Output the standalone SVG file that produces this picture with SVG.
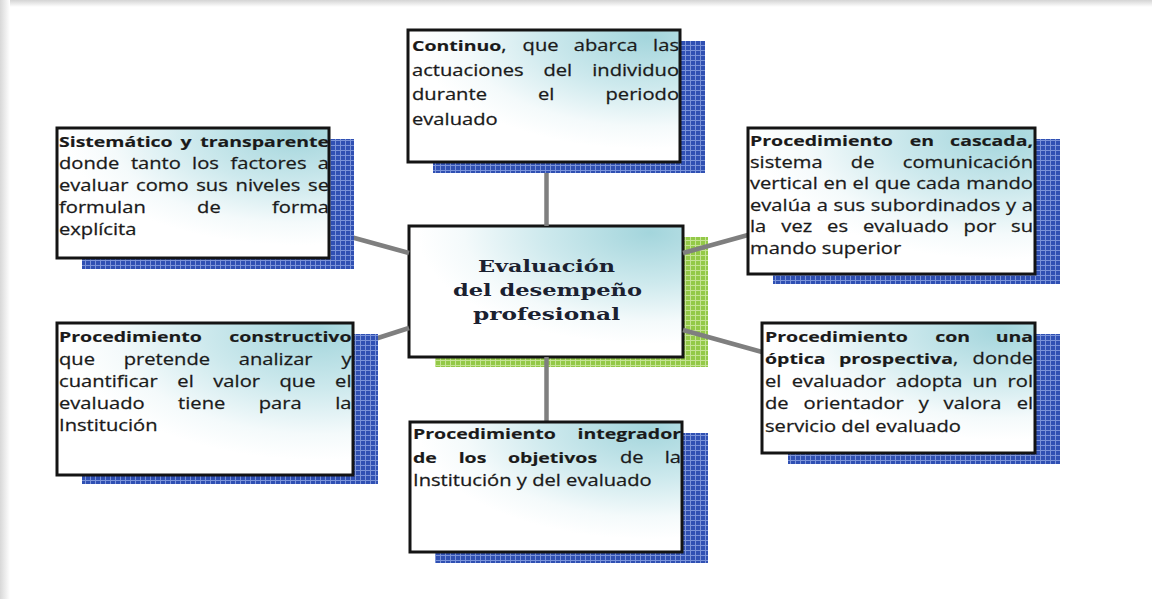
<svg xmlns="http://www.w3.org/2000/svg" width="1152" height="599" viewBox="0 0 1152 599">
<defs>
<style>
.box{fill:url(#boxGrad);stroke:#141414;stroke-width:3}
.sh{fill:url(#bluePat)}
.gsh{fill:url(#greenPat)}
.t text{font-family:"Open Sans","Liberation Sans",sans-serif;font-size:15.5px;fill:#1a1a1a;stroke:#1a1a1a;stroke-width:0.25px}
.t .b{font-weight:700;font-size:15px;stroke-width:0.15px}
.t .e{text-anchor:end}
.conn line{stroke:#7f7f7f;stroke-width:4.5;fill:none}
.ct{font-family:"DejaVu Serif","Liberation Serif",serif;font-weight:700;font-size:17.5px;fill:#1b2130}
</style>
<radialGradient id="boxGrad" cx="0.88" cy="0.05" r="0.85" fx="0.88" fy="0.05">
<stop offset="0" stop-color="#a3d5dc"/>
<stop offset="0.45" stop-color="#cde9ed"/>
<stop offset="0.8" stop-color="#f4fafb"/>
<stop offset="1" stop-color="#ffffff"/>
</radialGradient>
<linearGradient id="topBand" x1="0" y1="0" x2="0" y2="1">
<stop offset="0" stop-color="#d4d4d4"/>
<stop offset="1" stop-color="#ffffff"/>
</linearGradient>
<linearGradient id="leftBand" x1="0" y1="0" x2="1" y2="0">
<stop offset="0" stop-color="#d8d8d8"/>
<stop offset="1" stop-color="#ffffff"/>
</linearGradient>
<pattern id="bluePat" width="5" height="5" patternUnits="userSpaceOnUse">
<rect width="5" height="5" fill="#3050b3"/>
<rect width="5" height="1" fill="#7b93d8"/>
<rect width="1" height="5" fill="#7b93d8"/>
</pattern>
<pattern id="greenPat" width="5" height="5" patternUnits="userSpaceOnUse">
<rect width="5" height="5" fill="#93c947"/>
<rect width="5" height="1" fill="#c5e394"/>
<rect width="1" height="5" fill="#c5e394"/>
</pattern>
</defs>

<rect width="1152" height="599" fill="#ffffff"/>
<rect x="0" y="0" width="1152" height="7" fill="url(#topBand)"/>
<rect x="0" y="0" width="10" height="599" fill="url(#leftBand)"/>

<g id="n-centro">
<rect class="gsh" x="435" y="237" width="273" height="130"/>
<rect class="box" x="409" y="226" width="274" height="131"/>
<text class="ct" x="478" y="272" textLength="137" lengthAdjust="spacingAndGlyphs">Evaluación</text>
<text class="ct" x="453" y="296" textLength="189" lengthAdjust="spacingAndGlyphs">del desempeño</text>
<text class="ct" x="473" y="320" textLength="147" lengthAdjust="spacingAndGlyphs">profesional</text>
</g>

<g id="connectors" class="conn">
<line x1="546.5" y1="162" x2="546.5" y2="226"/>
<line x1="546.5" y1="357" x2="546.5" y2="422"/>
<line x1="329" y1="231" x2="409" y2="253"/>
<line x1="353" y1="346" x2="409" y2="328"/>
<line x1="683" y1="253" x2="748" y2="235"/>
<line x1="683" y1="330" x2="762" y2="352"/>
</g>

<g id="n-continuo">
<rect class="sh" x="433" y="41" width="272" height="132"/>
<rect class="box" x="408" y="30" width="272" height="132"/>
<g class="t" transform="translate(412 0) scale(1.3 1)">
<text y="51.5"><tspan x="0" class="b">Continuo</tspan>,<tspan x="85.1">que</tspan><tspan x="124.5">abarca</tspan></text>
<text class="e" x="205.4" y="51.5">las</text>
<text y="76"><tspan x="0">actuaciones</tspan><tspan x="101.1">del</tspan></text>
<text class="e" x="205.4" y="76">individuo</text>
<text y="100.5"><tspan x="0">durante</tspan><tspan x="96.85">el</tspan></text>
<text class="e" x="205.4" y="100.5">periodo</text>
<text x="0" y="125">evaluado</text>
</g>
</g>

<g id="n-sistematico">
<rect class="sh" x="82" y="139" width="272" height="130"/>
<rect class="box" x="57" y="128" width="272" height="130"/>
<g class="t" transform="translate(59 0) scale(1.3 1)">
<text y="147"><tspan x="0" class="b">Sistemático</tspan><tspan x="93.5" class="b">y</tspan></text>
<text class="e b" x="207.7" y="147">transparente</text>
<text y="169"><tspan x="0">donde</tspan><tspan x="55.3">tanto</tspan><tspan x="102.4">los</tspan><tspan x="131.9">factores</tspan></text>
<text class="e" x="207.7" y="169">a</text>
<text y="191"><tspan x="0">evaluar</tspan><tspan x="59.3">como</tspan><tspan x="105.6">sus</tspan><tspan x="135.8">niveles</tspan></text>
<text class="e" x="207.7" y="191">se</text>
<text y="213"><tspan x="0">formulan</tspan><tspan x="106.25">de</tspan></text>
<text class="e" x="207.7" y="213">forma</text>
<text x="0" y="235">explícita</text>
</g>
</g>

<g id="n-cascada">
<rect class="sh" x="773" y="139" width="287" height="145"/>
<rect class="box" x="748" y="128" width="287" height="146"/>
<g class="t" transform="translate(750 0) scale(1.3 1)">
<text y="146.5"><tspan x="0" class="b">Procedimiento</tspan><tspan x="122.85" class="b">en</tspan></text>
<text class="e b" x="217.7" y="146.5">cascada,</text>
<text y="168"><tspan x="0">sistema</tspan><tspan x="77.55">de</tspan></text>
<text class="e" x="217.7" y="168">comunicación</text>
<text y="189.5"><tspan x="0">vertical</tspan><tspan x="56.5">en</tspan><tspan x="78.9">el</tspan><tspan x="95.9">que</tspan><tspan x="127.8">cada</tspan></text>
<text class="e" x="217.7" y="189.5">mando</text>
<text y="211"><tspan x="0">evalúa</tspan><tspan x="51.4">a</tspan><tspan x="64.3">sus</tspan><tspan x="92.9">subordinados</tspan><tspan x="197">y</tspan></text>
<text class="e" x="217.7" y="211">a</text>
<text y="232.5"><tspan x="0">la</tspan><tspan x="24.1">vez</tspan><tspan x="59.3">es</tspan><tspan x="86.9">evaluado</tspan><tspan x="164.3">por</tspan></text>
<text class="e" x="217.7" y="232.5">su</text>
<text x="0" y="254">mando superior</text>
</g>
</g>

<g id="n-constructivo">
<rect class="sh" x="82" y="334" width="296" height="150"/>
<rect class="box" x="57" y="323" width="296" height="152"/>
<g class="t" transform="translate(59 0) scale(1.3 1)">
<text y="342.5"><tspan x="0" class="b">Procedimiento</tspan></text>
<text class="e b" x="225" y="342.5">constructivo</text>
<text y="364.7"><tspan x="0">que</tspan><tspan x="49.8">pretende</tspan><tspan x="138.3">analizar</tspan></text>
<text class="e" x="225" y="364.7">y</text>
<text y="386.9"><tspan x="0">cuantificar</tspan><tspan x="91.05">el</tspan><tspan x="118.7">valor</tspan><tspan x="169.65">que</tspan></text>
<text class="e" x="225" y="386.9">el</text>
<text y="409.1"><tspan x="0">evaluado</tspan><tspan x="91.6">tiene</tspan><tspan x="153.6">para</tspan></text>
<text class="e" x="225" y="409.1">la</text>
<text x="0" y="431.3">Institución</text>
</g>
</g>

<g id="n-prospectiva">
<rect class="sh" x="788" y="334" width="272" height="130"/>
<rect class="box" x="762" y="323" width="273" height="130"/>
<g class="t" transform="translate(765 0) scale(1.3 1)">
<text y="342"><tspan x="0" class="b">Procedimiento</tspan><tspan x="130.9" class="b">con</tspan></text>
<text class="e b" x="206.2" y="342">una</text>
<text y="364.5"><tspan x="0" class="b">óptica</tspan><tspan x="56.85" class="b">prospectiva</tspan>,</text>
<text class="e" x="206.2" y="364.5">donde</text>
<text y="387"><tspan x="0">el</tspan><tspan x="20.6">evaluador</tspan><tspan x="100.8">adopta</tspan><tspan x="159.7">un</tspan></text>
<text class="e" x="206.2" y="387">rol</text>
<text y="409.5"><tspan x="0">de</tspan><tspan x="29.7">orientador</tspan><tspan x="118.2">y</tspan><tspan x="137.4">valora</tspan></text>
<text class="e" x="206.2" y="409.5">el</text>
<text x="0" y="432">servicio del evaluado</text>
</g>
</g>

<g id="n-integrador">
<rect class="sh" x="435" y="433" width="273" height="130"/>
<rect class="box" x="410" y="422" width="272" height="130"/>
<g class="t" transform="translate(413 0) scale(1.3 1)">
<text y="439.5"><tspan x="0" class="b">Procedimiento</tspan></text>
<text class="e b" x="206.2" y="439.5">integrador</text>
<text y="463"><tspan x="0" class="b">de</tspan><tspan x="35.1" class="b">los</tspan><tspan x="73.1" class="b">objetivos</tspan><tspan x="159.2">de</tspan></text>
<text class="e" x="206.2" y="463">la</text>
<text x="0" y="486.5">Institución y del evaluado</text>
</g>
</g>
</svg>
